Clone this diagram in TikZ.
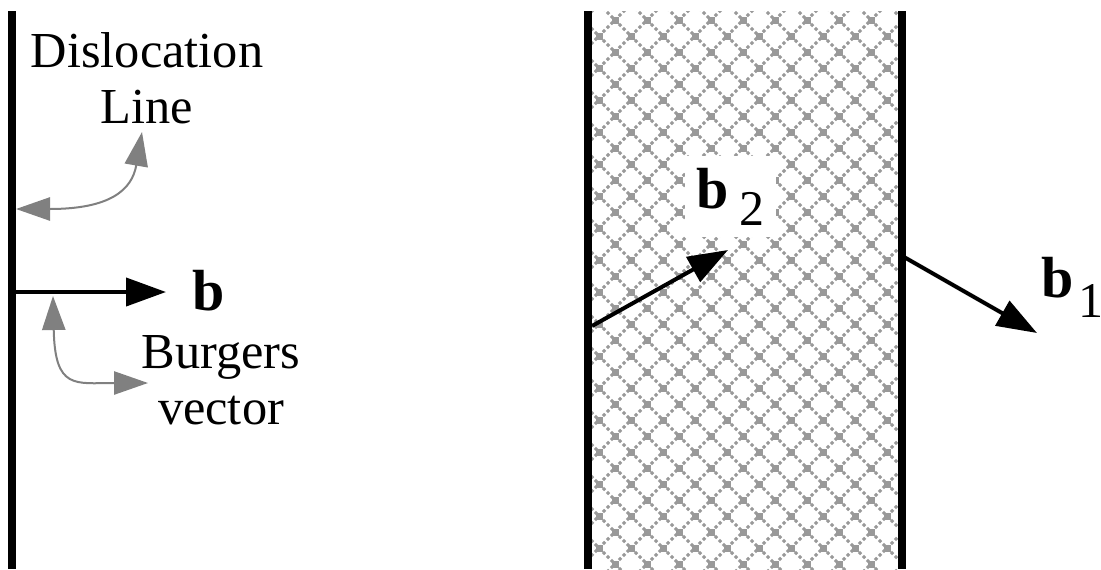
\documentclass[tikz,border=0pt]{standalone}
\usepackage{fontspec}
\setmainfont{Liberation Serif}
\usetikzlibrary{arrows.meta, positioning}

\begin{document}
\begin{tikzpicture}[
    x=0.25pt, y=-0.25pt,
    every node/.style={font=\fontsize{12.6}{14.1}\selectfont, inner sep=0pt},
    disline/.style={line width=1.8pt},
    burgvec/.style={line width=1pt, -{Triangle[length=10pt, width=7pt]}},
    pointer/.style={draw=gray, line width=0.5pt,
      {Triangle[length=8.5pt, width=5.8pt]}-{Triangle[length=8.5pt, width=5.8pt]}, gray},
    veclabel/.style={font=\fontsize{14.5}{18}\selectfont\bfseries, anchor=base west},
    hatch/.style={draw=black!40, line width=0.75pt, dash pattern=on 0.8pt off 0.614pt},
  ]
  \useasboundingbox (0,0) rectangle (1101,569);

  % crosshatched slab
  \begin{scope}
    \clip (592,11) rectangle (899,569);
    \foreach \k in {-14,...,23} {
      \draw[hatch] (599+32*\k-608, 388-608) -- ++(1216,1216);
      \draw[hatch] (599+32*\k-608, 388+608) -- ++(1216,-1216);
    }
    \foreach \i in {-1,...,10}
      \foreach \j in {-12,...,6} {
        \fill[black!40] (599+32*\i-3.5, 388+32*\j-3.5) rectangle ++(7,7);
        \fill[black!40] (615+32*\i-3.5, 404+32*\j-3.5) rectangle ++(7,7);
      }
  \end{scope}

  % dislocation lines
  \draw[disline] (12,11) -- (12,569);
  \draw[disline] (588,11) -- (588,569);
  \draw[disline] (902,11) -- (902,569);

  % left panel
  \node[align=center] (dislabel) at (147,78.5) {Dislocation\\Line};
  \node[align=center] (burglabel) at (221,380) {Burgers\\vector};
  \coordinate (linept) at (16,209);
  \coordinate (vecpt) at (53,296);
  \coordinate (vecbase) at (16,292);
  \node[veclabel] (bvec) at (192,310) {b};
  \draw[burgvec] (vecbase) -- (166,292) coordinate (vectip);
  \draw[pointer] (linept) .. controls (110,209) and (132,190) .. (142,132);
  \draw[pointer] (vecpt) .. controls (55,390) and (75,383) .. (148,383);

  % right panel
  \coordinate (leftfoot) at (592,326);
  \coordinate (rightfoot) at (904,257);
  \node[veclabel, fill=white, inner sep=3pt] (btwo) at (684,208)
    {b\hspace{2.5pt}\raisebox{-4.3pt}{\mdseries\fontsize{12.5}{14}\selectfont 2}};
  \node[veclabel] (bone) at (1041,297)
    {b\hspace{1pt}\raisebox{-5.2pt}{\mdseries\fontsize{12.5}{14}\selectfont 1}};
  \draw[burgvec] (leftfoot) -- (728,250);
  \draw[burgvec] (rightfoot) -- (1037,333);
\end{tikzpicture}
\end{document}
